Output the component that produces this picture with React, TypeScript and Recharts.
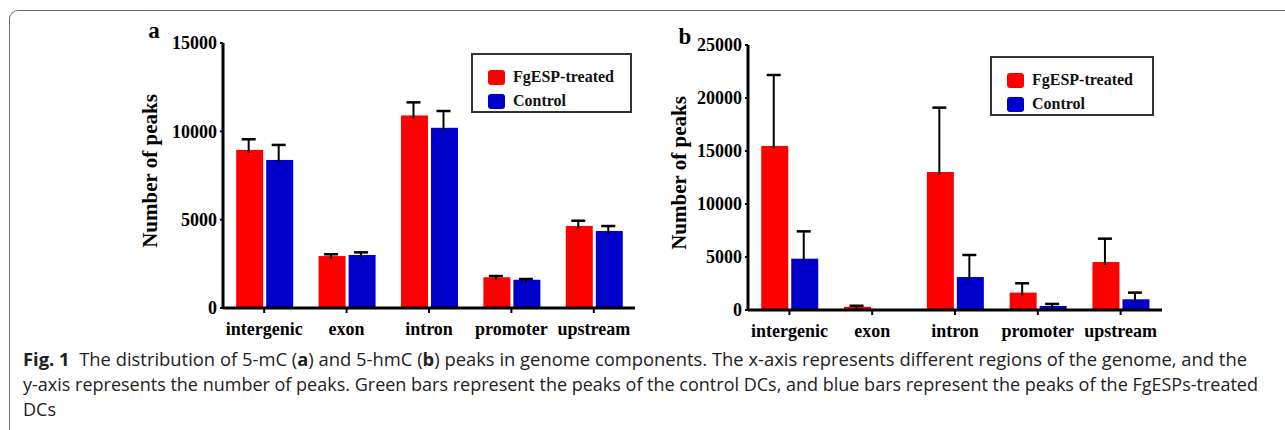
import React from "react";
import { BarChart, Bar, XAxis, YAxis, Legend, Label } from "recharts";

const categories = ["intergenic", "exon", "intron", "promoter", "upstream"];
const seriesNames = ["FgESP-treated", "Control"];

// panel a: 5-mC
const mcTreated = [8950, 2940, 10900, 1740, 4640];
const mcTreatedErr = [600, 100, 740, 70, 300];
const mcControl = [8380, 3000, 10200, 1600, 4360];
const mcControlErr = [850, 150, 950, 40, 280];
const mcTicks = [0, 5000, 10000, 15000];

// panel b: 5-hmC
const hmcTreated = [15470, 300, 13020, 1640, 4530];
const hmcTreatedErr = [6700, 100, 6070, 880, 2200];
const hmcControl = [4840, 40, 3110, 380, 1010];
const hmcControlErr = [2580, 0, 2080, 190, 630];
const hmcTicks = [0, 5000, 10000, 15000, 20000, 25000];

const RED = "#ff0000";
const BLUE = "#0000cc";
const SERIF = "'Liberation Serif', 'Times New Roman', serif";

const buildRows = (t: number[], te: number[], c: number[], ce: number[]) =>
  categories.map((name, i) => ({
    name,
    treated: t[i],
    treatedErr: te[i],
    control: c[i],
    controlErr: ce[i],
  }));

const mcData = buildRows(mcTreated, mcTreatedErr, mcControl, mcControlErr);
const hmcData = buildRows(hmcTreated, hmcTreatedErr, hmcControl, hmcControlErr);

// bar with an upper-only error whisker, like GraphPad draws them
const makeBarShape = (valueKey: string, errKey: string) => (props: any) => {
  const { x, y, width, height, fill, payload } = props;
  const val = payload[valueKey];
  const err = payload[errKey];
  const errPx = height > 0 && val > 0 ? (height * err) / val : 0;
  const cx = x + width / 2 - 1;
  return (
    <g>
      <rect x={x} y={y} width={width} height={Math.max(height, 0)} fill={fill} />
      {errPx > 0 && (
        <g stroke="#000">
          <line x1={cx} x2={cx} y1={y + 3} y2={y - errPx} strokeWidth={2} />
          <line x1={cx - 7} x2={cx + 7} y1={y - errPx} y2={y - errPx} strokeWidth={2.5} />
        </g>
      )}
    </g>
  );
};

const renderLegend = (props: any) => {
  const items = [...(props.payload || [])].sort(
    (a: any, b: any) => seriesNames.indexOf(a.value) - seriesNames.indexOf(b.value)
  );
  return (
    <div
      style={{
        boxSizing: "border-box",
        width: "100%",
        height: "100%",
        border: "2px solid #333",
        background: "#fff",
        paddingTop: 10,
        paddingLeft: 15,
      }}
    >
      {items.map((p: any) => (
        <div key={p.value} style={{ display: "flex", alignItems: "center", height: 24 }}>
          <span
            style={{
              display: "inline-block",
              width: 17,
              height: 15,
              borderRadius: 3,
              background: p.color,
              marginRight: 8,
            }}
          />
          <span style={{ fontFamily: SERIF, fontWeight: "bold", fontSize: 16, color: "#111" }}>
            {p.value}
          </span>
        </div>
      ))}
    </div>
  );
};

interface PanelProps {
  data: typeof mcData;
  ticks: number[];
  yWidth: number;
  top: number;
  right: number;
  height: number;
  labelX: number;
  labelY: number;
  legendPos: { left: number; top: number; width: number; height: number };
}

function Panel({ data, ticks, yWidth, top, right, height, labelX, labelY, legendPos }: PanelProps) {
  const tickFont = { fontSize: 18, fontWeight: "bold", fill: "#000", fontFamily: SERIF };
  return (
    <BarChart
      width={520}
      height={height}
      data={data}
      margin={{ top, right, left: 0, bottom: 6 }}
      barCategoryGap="16%"
      barGap={3}
    >
      <XAxis
        dataKey="name"
        height={36}
        interval={0}
        tick={tickFont}
        tickSize={5}
        tickMargin={9}
        tickLine={{ stroke: "#000", strokeWidth: 2 }}
        axisLine={{ stroke: "#000", strokeWidth: 3 }}
      />
      <YAxis
        width={yWidth}
        domain={[0, ticks[ticks.length - 1]]}
        ticks={ticks}
        interval={0}
        tick={tickFont}
        tickSize={3}
        tickMargin={3}
        tickLine={{ stroke: "#000", strokeWidth: 2 }}
        axisLine={{ stroke: "#000", strokeWidth: 3 }}
      >
        <Label
          content={() => (
            <text
              x={labelX}
              y={labelY}
              transform={`rotate(-90 ${labelX} ${labelY})`}
              textAnchor="middle"
              dominantBaseline="central"
              fontFamily={SERIF}
              fontWeight="bold"
              fontSize={21}
              fill="#000"
            >
              Number of peaks
            </text>
          )}
        />
      </YAxis>
      <Legend
        layout="vertical"
        align="center"
        verticalAlign="middle"
        content={renderLegend}
        wrapperStyle={{ ...legendPos }}
      />
      <Bar
        dataKey="treated"
        name={seriesNames[0]}
        fill={RED}
        shape={makeBarShape("treated", "treatedErr")}
        isAnimationActive={false}
      />
      <Bar
        dataKey="control"
        name={seriesNames[1]}
        fill={BLUE}
        shape={makeBarShape("control", "controlErr")}
        isAnimationActive={false}
      />
    </BarChart>
  );
}

const CAPTION_FONT = "'Open Sans', 'Noto Sans', sans-serif";

export default function App() {
  return (
    <div
      style={{
        position: "absolute",
        left: 0,
        top: 0,
        width: 1285,
        height: 430,
        overflow: "hidden",
        background: "#fff",
      }}
    >
      <div
        style={{
          position: "absolute",
          left: 9,
          top: 10,
          width: 1300,
          height: 440,
          borderLeft: "1.5px solid #6b6b6b",
          borderTop: "1.5px solid #6b6b6b",
          borderTopLeftRadius: 9,
        }}
      />
      <div style={{ position: "absolute", left: 130, top: 0 }}>
        <Panel
          data={mcData}
          ticks={mcTicks}
          yWidth={93}
          top={43}
          right={15}
          height={350}
          labelX={20}
          labelY={171}
          legendPos={{ left: 341, top: 53, width: 161, height: 60 }}
        />
      </div>
      <div style={{ position: "absolute", left: 660, top: 0 }}>
        <Panel
          data={hmcData}
          ticks={hmcTicks}
          yWidth={88}
          top={45}
          right={18}
          height={352}
          labelX={19}
          labelY={173}
          legendPos={{ left: 330, top: 56, width: 164, height: 60 }}
        />
      </div>
      <svg
        width={1285}
        height={430}
        style={{ position: "absolute", left: 0, top: 0, pointerEvents: "none" }}
      >
        <text x={154} y={38} textAnchor="middle" fontFamily={SERIF} fontWeight="bold" fontSize={23}>
          a
        </text>
        <text x={685} y={44} textAnchor="middle" fontFamily={SERIF} fontWeight="bold" fontSize={23}>
          b
        </text>
        <text
          x={23}
          y={366}
          fontFamily={CAPTION_FONT}
          fontSize={18}
          fill="#222"
          textLength={1224}
          lengthAdjust="spacingAndGlyphs"
          style={{ whiteSpace: "pre" }}
        >
          <tspan fontWeight="bold">Fig. 1</tspan>
          <tspan>{"  The distribution of 5-mC ("}</tspan>
          <tspan fontWeight="bold">a</tspan>
          <tspan>{") and 5-hmC ("}</tspan>
          <tspan fontWeight="bold">b</tspan>
          <tspan>
            {") peaks in genome components. The x-axis represents different regions of the genome, and the"}
          </tspan>
        </text>
        <text
          x={23}
          y={391}
          fontFamily={CAPTION_FONT}
          fontSize={18}
          fill="#222"
          textLength={1235}
          lengthAdjust="spacingAndGlyphs"
        >
          y-axis represents the number of peaks. Green bars represent the peaks of the control DCs, and blue bars represent the peaks of the FgESPs-treated
        </text>
        <text x={23} y={416} fontFamily={CAPTION_FONT} fontSize={18} fill="#222">
          DCs
        </text>
      </svg>
    </div>
  );
}
